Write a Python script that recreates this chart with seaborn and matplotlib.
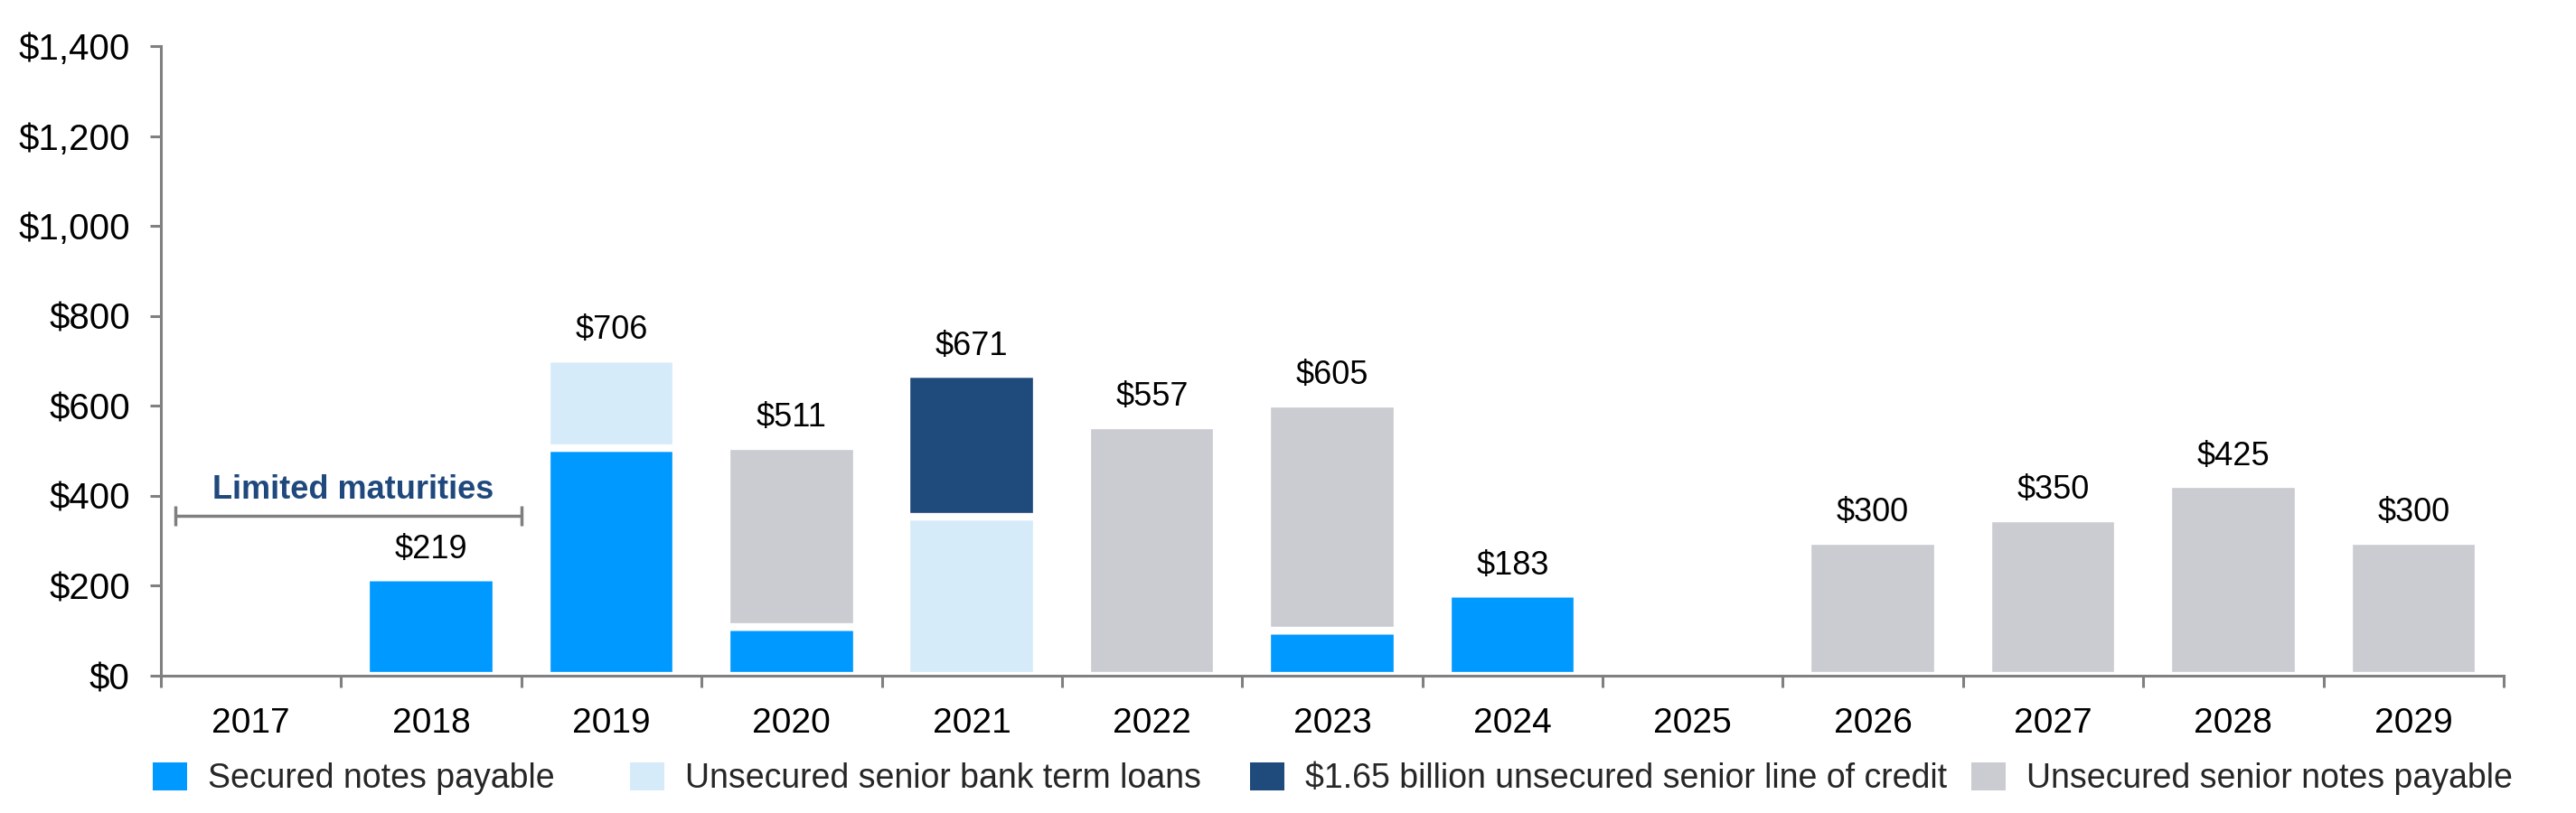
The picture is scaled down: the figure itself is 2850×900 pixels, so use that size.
import numpy as np
import pandas as pd
import matplotlib
matplotlib.use('Agg')
import matplotlib.pyplot as plt
from matplotlib.patches import Patch
from matplotlib.ticker import FuncFormatter
import seaborn as sns

# debt maturities, $ millions
years = ['2017', '2018', '2019', '2020', '2021', '2022', '2023',
         '2024', '2025', '2026', '2027', '2028', '2029']
secured = [0, 219, 506, 108, 0, 0, 100, 183, 0, 0, 0, 0, 0]
term_loans = [0, 0, 200, 0, 354, 0, 0, 0, 0, 0, 0, 0, 0]
line_of_credit = [0, 0, 0, 0, 317, 0, 0, 0, 0, 0, 0, 0, 0]
senior_notes = [0, 0, 0, 403, 0, 557, 505, 0, 0, 300, 350, 425, 300]
series_names = ['Secured notes payable', 'Unsecured senior bank term loans',
                '$1.65 billion unsecured senior line of credit',
                'Unsecured senior notes payable']
y_ticks = [0, 200, 400, 600, 800, 1000, 1200, 1400]
bracket_span = [-0.42, 1.5]
bracket_level = 356
bracket_text = 'Limited maturities'

colors = ['#0099FF', '#D5EBFA', '#1F4A7C', '#CBCCD1']

sns.set_theme(style='white')
plt.rcParams['font.family'] = ['Liberation Sans', 'DejaVu Sans']

df = pd.DataFrame({'year': years, 'secured': secured, 'term': term_loans,
                   'loc': line_of_credit, 'notes': senior_notes})
df['total'] = df[['secured', 'term', 'loc', 'notes']].sum(axis=1)

fig = plt.figure(figsize=(28.5, 9), dpi=100)
ax = fig.add_axes([178 / 2850, 1 - 748 / 900, (2770 - 178) / 2850, (748 - 51) / 900])

# stacked bars, one layer at a time
bottom = np.zeros(len(df))
for col, color in zip(['secured', 'term', 'loc', 'notes'], colors):
    sns.barplot(data=df, x='year', y=col, order=years, color=color, saturation=1,
                width=0.72, errorbar=None, bottom=bottom, edgecolor='white',
                linewidth=6, ax=ax)
    bottom = bottom + df[col].to_numpy()

# total labels
for i, tot in enumerate(df['total']):
    if tot > 0:
        ax.text(i, tot + 62, f'${tot:,.0f}', ha='center', va='center',
                fontsize=26, color='black')

# "Limited maturities" bracket
ax.plot(bracket_span, [bracket_level, bracket_level], color='#7F7F7F', lw=2.5,
        marker='|', markersize=16, markeredgewidth=2.5, solid_capstyle='butt')
ax.text(0.568, 412, bracket_text, ha='center', va='center', fontsize=26,
        fontweight='bold', color='#1F497D')

ax.set_xlim(-0.5, len(years) - 0.5)
ax.set_ylim(0, 1400)
ax.set_yticks(y_ticks)
ax.yaxis.set_major_formatter(FuncFormatter(lambda v, p: f'${v:,.0f}'))
ax.set_xticks(range(len(years)))
ax.set_xticklabels(years)
ax.set_xticks(np.arange(-0.5, len(years), 1), minor=True)
ax.set_xlabel('')
ax.set_ylabel('')

for side in ['top', 'right']:
    ax.spines[side].set_visible(False)
for side in ['left', 'bottom']:
    ax.spines[side].set_color('#808080')
    ax.spines[side].set_linewidth(2.2)

ax.tick_params(axis='y', which='major', direction='out', length=8.6, width=2.2,
               color='#808080', labelsize=29, labelcolor='black', pad=16, left=True)
ax.tick_params(axis='x', which='major', length=0, labelsize=28,
               labelcolor='black', pad=25)
ax.tick_params(axis='x', which='minor', direction='out', length=9, width=2.2,
               color='#808080', bottom=True)

# legend entries placed individually, as in the original slide
legend_x = [169, 697, 1383, 2181]
for c, name, lx in zip(colors, series_names, legend_x):
    fig.legend([Patch(facecolor=c, edgecolor='none')], [name], loc='center left',
               bbox_to_anchor=(lx / 2850, 1 - 862 / 900), frameon=False, fontsize=27,
               handlelength=1.0, handleheight=0.93, handletextpad=0.64,
               borderpad=0, borderaxespad=0)

fig.savefig('out.png', dpi=100)
